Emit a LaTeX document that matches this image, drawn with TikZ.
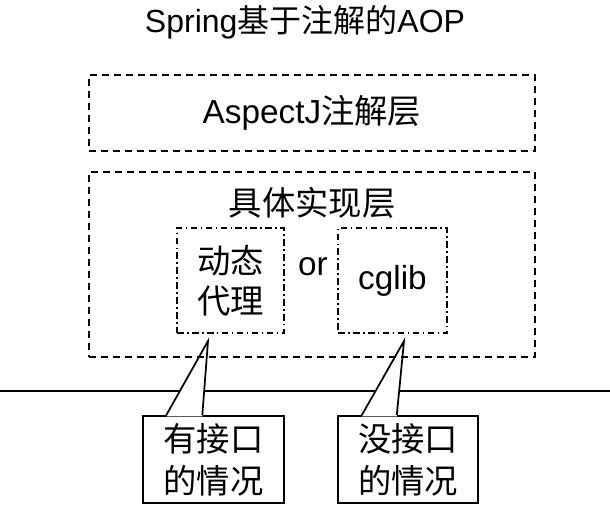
\documentclass[tikz,border=0pt]{standalone}
\usepackage{fontspec}
\setmainfont{Liberation Sans}
\newfontfamily\cjk{Noto Sans CJK SC}
\usetikzlibrary{calc}
\tikzset{layer/.style={draw,line width=1.3pt,dash pattern=on 5pt off 4pt,minimum width=334.5pt,inner sep=0pt},
  impl/.style={draw,line width=1.3pt,dash pattern=on 5pt off 2.5pt on 1.2pt off 2.5pt,minimum height=78.75pt,align=center,inner sep=0pt},
  note/.style={draw,line width=1.3pt,fill=white,minimum width=105.5pt,minimum height=65.25pt,align=center,inner sep=0pt,font=\fontsize{25}{31.5}\selectfont},
  ptr/.style={line width=1.3pt,line join=miter}}
\begin{document}
\begin{tikzpicture}[x=0.75pt,y=-0.75pt,font=\fontsize{25}{30}\selectfont]
\useasboundingbox (0,0) rectangle (610,506);
% title and the cut line
\node (title) at (305,22) {\fontsize{24}{28}\selectfont Spring{\cjk 基于注解的}AOP};
\coordinate (lineL) at (0,391);\coordinate (lineR) at (610,391);
\draw[line width=1.5pt] (lineL) -- (lineR);
% two cases
\node[note] (withif) at (213.5,459.5) {\cjk 有接口\\\cjk 的情况};
\node[note] (noif) at (408,459.5) {\cjk 没接口\\\cjk 的情况};
\coordinate (tipA) at (208,341);\coordinate (tipB) at (404,341);
\fill[white] ($(withif.north west)+(24,1.2)$) -- (tipA) -- ($(withif.north west)+(60,1.2)$) -- cycle;
\draw[ptr] ($(withif.north west)+(24,0)$) -- (tipA) -- ($(withif.north west)+(60,0)$);
\fill[white] ($(noif.north west)+(25,1.2)$) -- (tipB) -- ($(noif.north west)+(60,1.2)$) -- cycle;
\draw[ptr] ($(noif.north west)+(25,0)$) -- (tipB) -- ($(noif.north west)+(60,0)$);
% layers
\node[layer,minimum height=57pt] (aspectj) at (312,113) {AspectJ{\cjk 注解层}};
\node[layer,minimum height=138.75pt] (impllayer) at (312,264.5) {};
\node (impltitle) at (312,203) {\cjk 具体实现层};
\node[impl,minimum width=80.25pt] (proxy) at (230.5,280.5) {\cjk 动态\\\cjk 代理};
\node[impl,minimum width=81.75pt] (cglib) at (392.5,280.5) {cglib};
\node (or) at (313,267) {or};
\end{tikzpicture}
\end{document}
